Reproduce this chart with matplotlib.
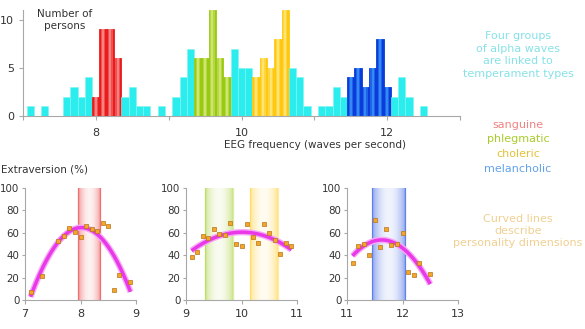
import numpy as np
import matplotlib.pyplot as plt
from matplotlib.colors import to_rgb

# histogram: EEG frequency bins (0.1 Hz wide) and number of persons
freqs = [7.1, 7.3, 7.6, 7.7, 7.8, 7.9, 8.0, 8.1, 8.2, 8.3, 8.4, 8.5, 8.6, 8.7, 8.9,
         9.1, 9.2, 9.3, 9.4, 9.5, 9.6, 9.7, 9.8, 9.9, 10.0, 10.1, 10.2, 10.3, 10.4,
         10.5, 10.6, 10.7, 10.8, 10.9, 11.1, 11.2, 11.3, 11.4, 11.5, 11.6, 11.7,
         11.8, 11.9, 12.0, 12.1, 12.2, 12.3, 12.5]
counts = [1, 1, 2, 3, 2, 4, 2, 9, 9, 6, 2, 3, 1, 1, 1,
          2, 4, 7, 6, 6, 11, 6, 4, 7, 5, 5, 4, 6, 5,
          8, 11, 5, 4, 1, 1, 1, 3, 2, 4, 5, 3,
          5, 8, 3, 2, 4, 2, 1]

# temperament frequency ranges
temperaments = ['sanguine', 'phlegmatic', 'choleric', 'melancholic']
t_lo = [7.95, 9.35, 10.15, 11.45]
t_hi = [8.35, 9.85, 10.65, 12.05]
t_base = ['#E81C1C', '#99C911', '#FFC810', '#0A3CDC']
t_light = ['#FFB4B4', '#E8F5A0', '#FFF2A0', '#48B0FF']
t_text = ['#F08282', '#A8CC2A', '#E2C23A', '#62A2EA']

# extraversion scatter, one panel each
ext1_x = [7.1, 7.3, 7.6, 7.7, 7.8, 7.9, 8.0, 8.1, 8.2, 8.3, 8.4, 8.5, 8.6, 8.7, 8.9]
ext1_y = [7, 21, 53, 57, 64, 61, 56, 66, 63, 62, 69, 66, 9, 22, 16]
ext2_x = [9.1, 9.2, 9.3, 9.4, 9.5, 9.6, 9.7, 9.8, 9.9, 10.0, 10.1, 10.2, 10.3,
          10.4, 10.5, 10.6, 10.7, 10.8, 10.9]
ext2_y = [38, 43, 57, 55, 63, 59, 58, 69, 50, 48, 68, 56, 51, 68, 60, 54, 41, 51, 48]
ext3_x = [11.1, 11.2, 11.3, 11.4, 11.5, 11.6, 11.7, 11.8, 11.9, 12.0, 12.1, 12.2, 12.3, 12.5]
ext3_y = [33, 48, 50, 40, 71, 47, 63, 49, 50, 60, 25, 22, 33, 23]

grey = '#A8A8A8'
tcol = '#333333'

fig = plt.figure(figsize=(5.85, 3.29), dpi=100)


def style(ax):
    for s in ['top', 'right']:
        ax.spines[s].set_visible(False)
    for s in ['left', 'bottom']:
        ax.spines[s].set_color(grey)
    ax.tick_params(colors=grey, labelcolor=tcol, labelsize=8, length=3, width=0.8)


# ---------------- histogram ----------------
ax = fig.add_axes([23 / 585, 1 - 116 / 329, 437 / 585, 106 / 329])
style(ax)
for f, c in zip(freqs, counts):
    grp = None
    for i in range(4):
        if t_lo[i] < f < t_hi[i]:
            grp = i
    if grp is None:
        ax.bar(f, c, width=0.1, color='#2CEDED', edgecolor='#7FF5F5', linewidth=0.4)
    else:
        ax.bar(f, c, width=0.1, color=t_base[grp], edgecolor=t_base[grp], linewidth=0.6)
        ax.bar(f, c, width=0.06, color=t_light[grp], alpha=0.35, linewidth=0)
        ax.bar(f, c, width=0.03, color=t_light[grp], alpha=0.5, linewidth=0)
ax.set_xlim(7, 13)
ax.set_ylim(0, 11)
ax.set_yticks([0, 5, 10])
ax.set_xticks(range(7, 14))
ax.set_xticklabels(['', '8', '', '10', '', '12', ''])
ax.tick_params(axis='x', pad=6)
ax.text(65 / 585, 1 - 20 / 329, 'Number of\npersons', transform=fig.transFigure,
        ha='center', va='center', fontsize=7.5, color=tcol, linespacing=1.15)
fig.text(315 / 585, 1 - 145 / 329, 'EEG frequency (waves per second)',
         ha='center', va='center', fontsize=7.5, color=tcol)

# ---------------- right-hand notes ----------------
fig.text(518 / 585, 1 - 55 / 329, 'Four groups\nof alpha waves\nare linked to\ntemperament types',
         ha='center', va='center', fontsize=8, color='#86E2E8', linespacing=1.35)
for i, name in enumerate(temperaments):
    fig.text(518 / 585, 1 - (125 + 14.5 * i) / 329, name, ha='center', va='center',
             fontsize=8, color=t_text[i])
fig.text(518 / 585, 1 - 231 / 329, 'Curved lines\ndescribe\npersonality dimensions',
         ha='center', va='center', fontsize=8, color='#F0D092', linespacing=1.3)

# ---------------- extraversion panels ----------------
fig.text(0.001, 1 - 170 / 329, 'Extraversion (%)', ha='left', va='center',
         fontsize=7.5, color=tcol)

panels = [
    (25, ext1_x, ext1_y, 7, 9, [0]),
    (186, ext2_x, ext2_y, 9, 11, [1, 2]),
    (347, ext3_x, ext3_y, 11, 13, [3]),
]
ramp = np.abs(np.linspace(-1, 1, 60)) ** 2
for left, xs, ys, x0, x1, bands in panels:
    a = fig.add_axes([left / 585, 1 - 300 / 329, 111 / 585, 112 / 329])
    style(a)
    a.tick_params(axis='y', pad=1.5, labelsize=7.4, length=2.5)
    for b in bands:
        rgb = to_rgb(t_base[b])
        img = np.zeros((1, len(ramp), 4))
        img[..., :3] = rgb
        img[..., 3] = 0.06 + 0.4 * ramp
        a.imshow(img, extent=(t_lo[b], t_hi[b], 0, 100), aspect='auto', zorder=1)
        a.plot([t_lo[b], t_lo[b]], [0, 100], color=t_base[b], alpha=0.35, lw=1, zorder=1)
        a.plot([t_hi[b], t_hi[b]], [0, 100], color=t_base[b], alpha=0.35, lw=1, zorder=1)
    # excel-style 2nd order trendline
    p = np.polyfit(xs, ys, 2)
    xx = np.linspace(xs[0], xs[-1], 100)
    a.plot(xx, np.polyval(p, xx), color='#F7A8F7', lw=4.5, solid_capstyle='butt', zorder=2)
    a.plot(xx, np.polyval(p, xx), color='#E838E8', lw=2.5, solid_capstyle='butt', zorder=2)
    a.scatter(xs, ys, marker='s', s=12, color='#F4A62A', edgecolor='#B8741A',
              linewidth=0.5, zorder=3)
    a.set_xlim(x0, x1)
    a.set_ylim(0, 100)
    a.set_xticks(range(x0, x1 + 1))
    a.set_yticks(range(0, 101, 20))

plt.savefig('out.png', dpi=100)
